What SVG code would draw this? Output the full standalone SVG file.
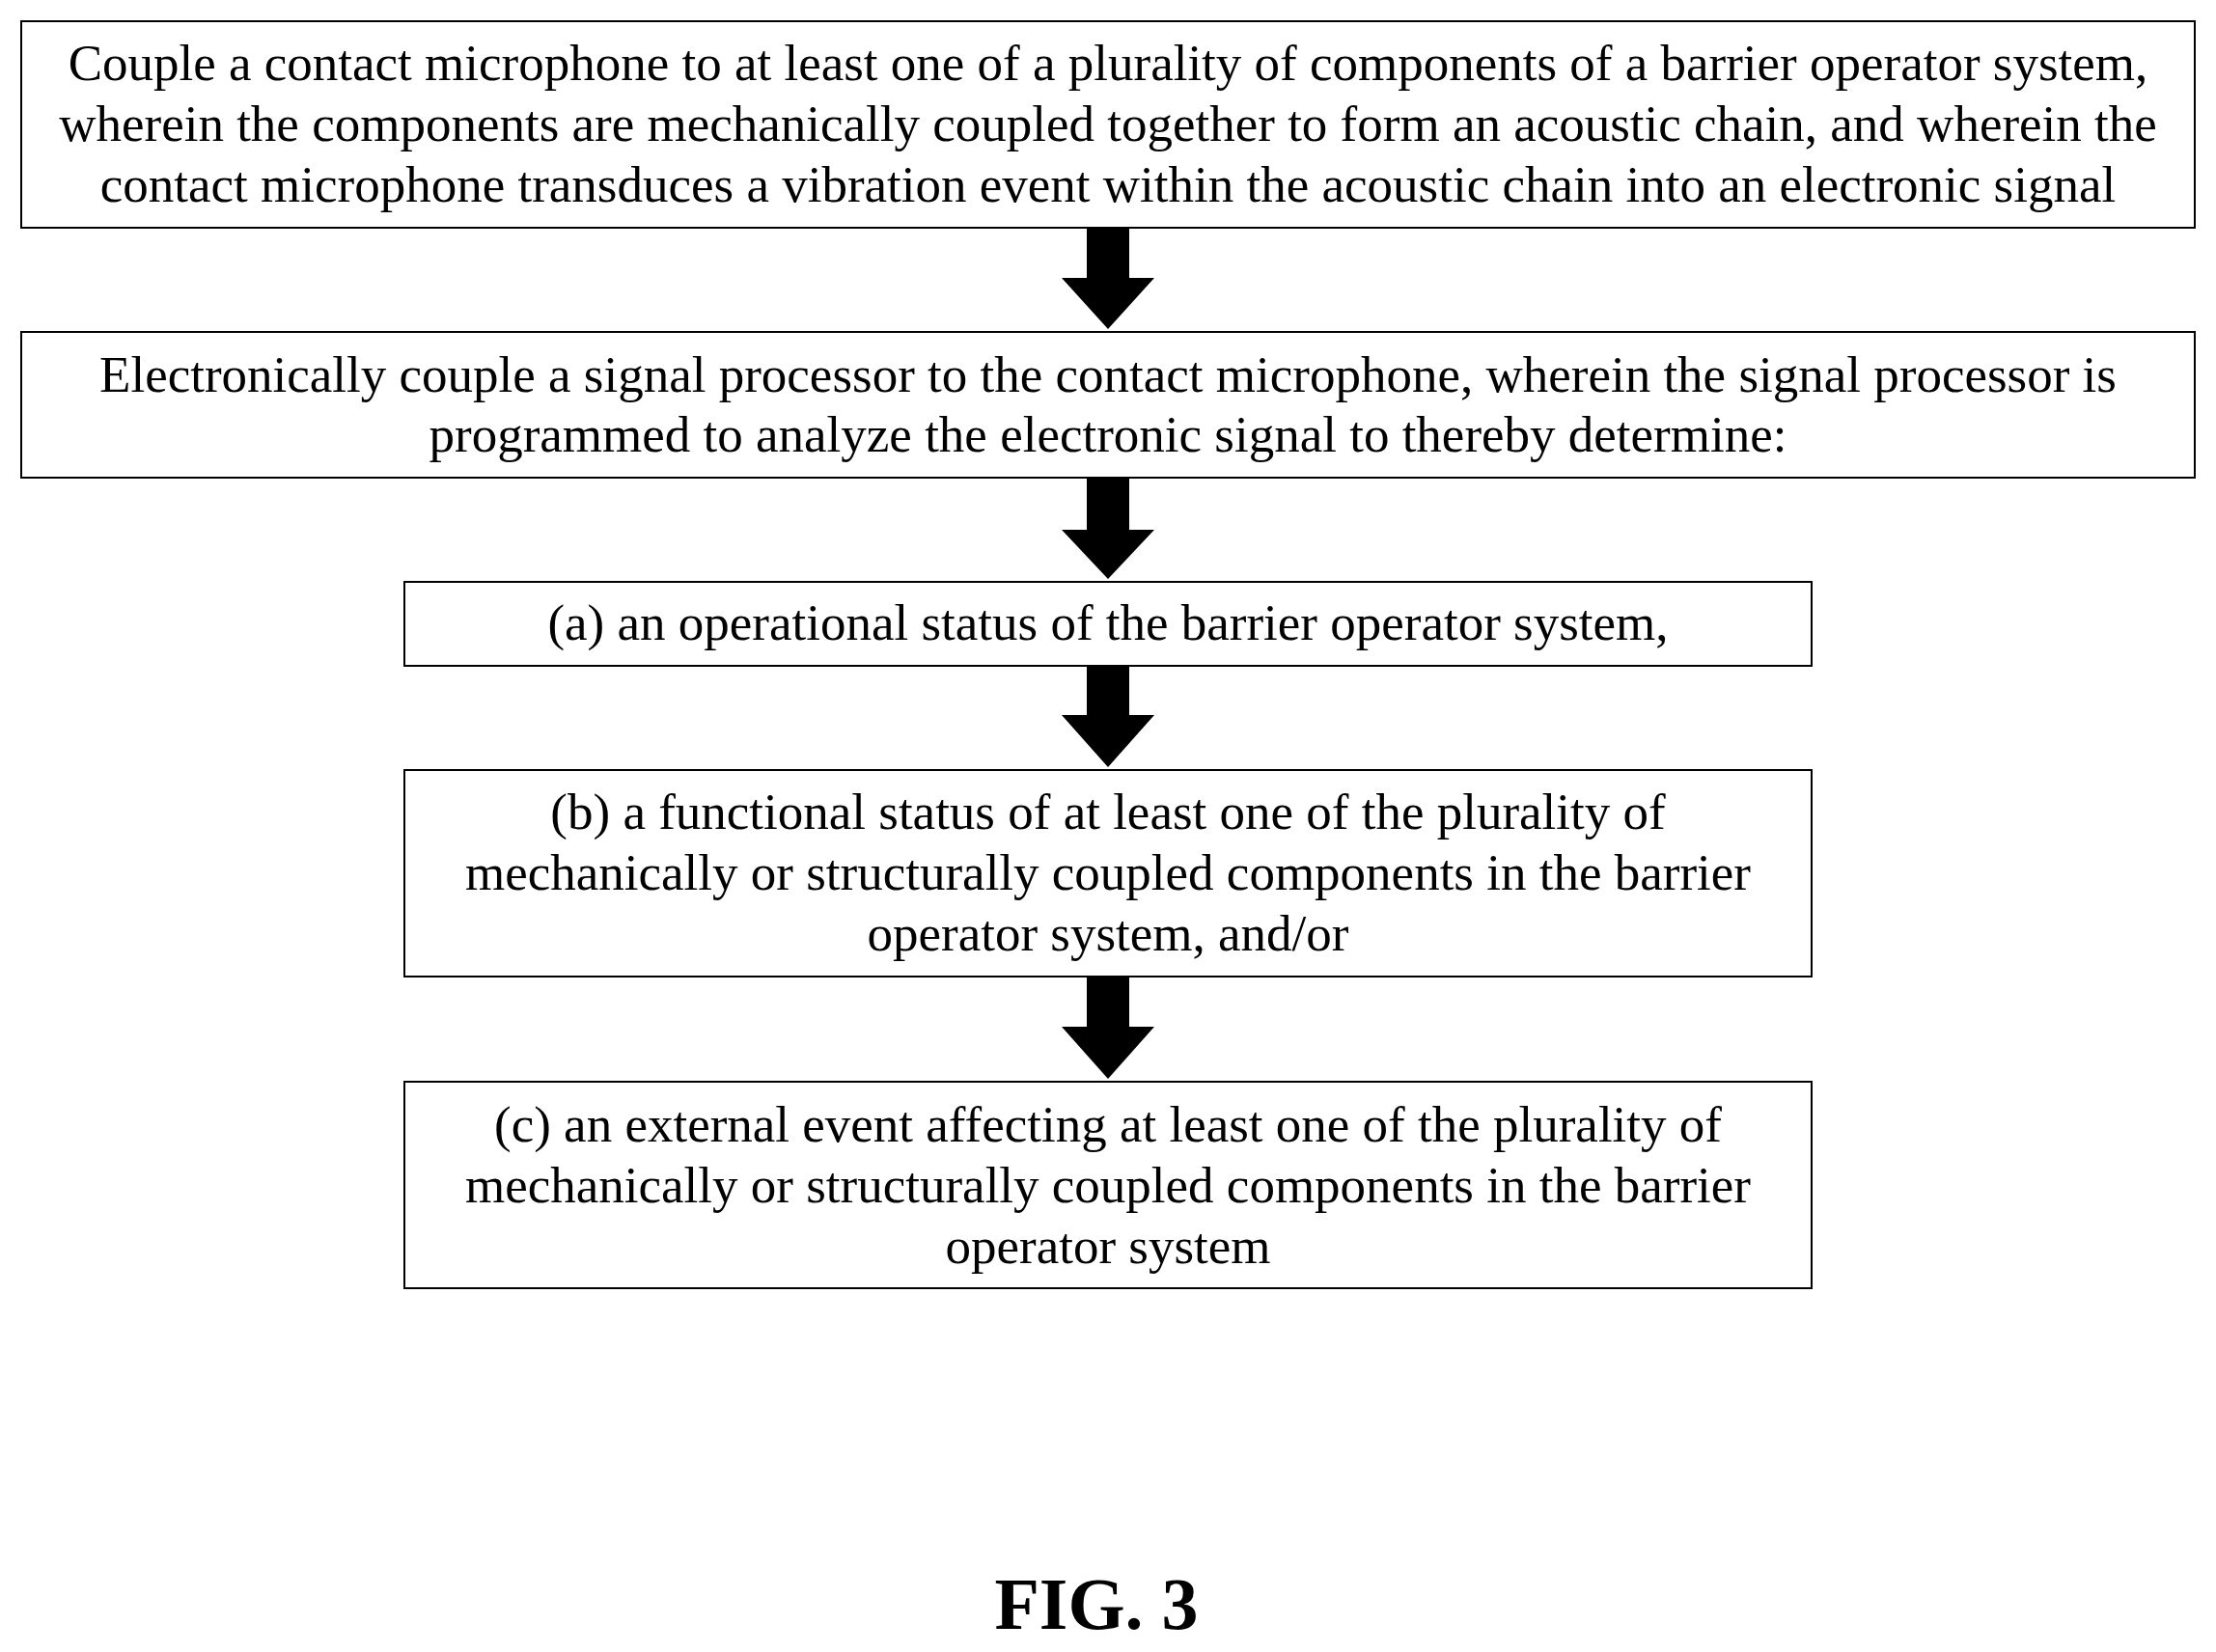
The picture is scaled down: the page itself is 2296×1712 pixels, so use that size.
<svg xmlns="http://www.w3.org/2000/svg" width="2296" height="1712" viewBox="0 0 2296 1712">
<style>
.b{fill:#fff;stroke:#000;stroke-width:2}
text{font-family:"Liberation Serif","Times New Roman",serif;font-size:53px;text-anchor:middle;fill:#000}
.a{fill:#000}
</style>
<rect width="2296" height="1712" fill="#fff"/>
<g id="n1"><rect class="b" x="22" y="22" width="2252" height="214"/>
<text x="1148" y="83">Couple a contact microphone to at least one of a plurality of components of a barrier operator system,</text>
<text x="1148" y="146">wherein the components are mechanically coupled together to form an acoustic chain, and wherein the</text>
<text x="1148" y="209">contact microphone transduces a vibration event within the acoustic chain into an electronic signal</text></g>
<g id="n2"><rect class="b" x="22" y="344" width="2252" height="151"/>
<text x="1148" y="406">Electronically couple a signal processor to the contact microphone, wherein the signal processor is</text>
<text x="1148" y="468">programmed to analyze the electronic signal to thereby determine:</text></g>
<g id="n3"><rect class="b" x="419" y="603" width="1458" height="87"/>
<text x="1148" y="663">(a) an operational status of the barrier operator system,</text></g>
<g id="n4"><rect class="b" x="419" y="798" width="1458" height="214"/>
<text x="1148" y="859">(b) a functional status of at least one of the plurality of</text>
<text x="1148" y="922">mechanically or structurally coupled components in the barrier</text>
<text x="1148" y="985">operator system, and/or</text></g>
<g id="n5"><rect class="b" x="419" y="1121" width="1458" height="214"/>
<text x="1148" y="1183">(c) an external event affecting at least one of the plurality of</text>
<text x="1148" y="1246">mechanically or structurally coupled components in the barrier</text>
<text x="1148" y="1309">operator system</text></g>
<g id="connectors">
<polygon class="a" points="1126,236 1170,236 1170,288 1196,288 1148,341 1100,288 1126,288"/>
<polygon class="a" points="1126,495 1170,495 1170,549 1196,549 1148,600 1100,549 1126,549"/>
<polygon class="a" points="1126,690 1170,690 1170,741 1196,741 1148,795 1100,741 1126,741"/>
<polygon class="a" points="1126,1012 1170,1012 1170,1064 1196,1064 1148,1118 1100,1064 1126,1064"/>
</g>
<text x="1136" y="1688" style="font-size:76px;font-weight:bold">FIG. 3</text>
</svg>
